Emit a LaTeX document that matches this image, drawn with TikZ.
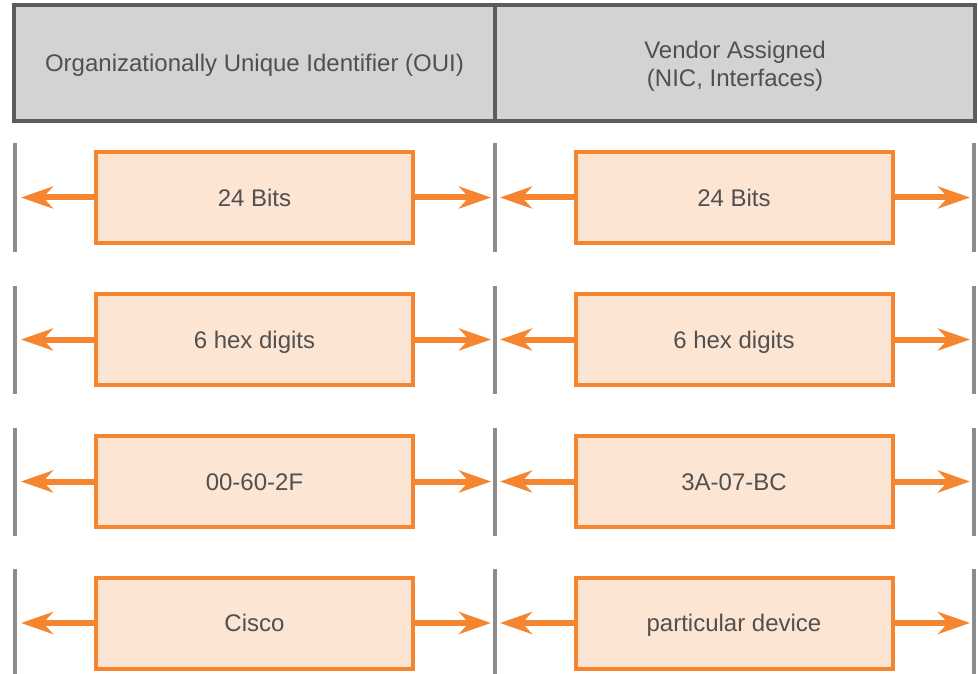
\documentclass[tikz,border=0pt]{standalone}
\usepackage{fontspec}
\setmainfont{Liberation Sans}
\usetikzlibrary{arrows.meta}
\definecolor{macorange}{HTML}{F5862F}
\definecolor{macfill}{HTML}{FDE5D3}
\definecolor{headfill}{HTML}{D4D2D3}
\definecolor{headline}{HTML}{5C5C5C}
\definecolor{macgray}{HTML}{505050}
\definecolor{tickgray}{HTML}{8C8C8C}
\tikzset{
  header/.style={draw=headline, line width=3.5pt, fill=headfill, minimum height=116pt,
    text=macgray, align=center, font=\fontsize{24}{27.5}\selectfont,
    text height=17.2pt, text depth=0pt},
  field/.style={draw=macorange, line width=4pt, fill=macfill, minimum width=317pt,
    minimum height=91pt, text=macgray, font=\fontsize{24}{27.5}\selectfont,
    text height=17.2pt, text depth=0pt},
  span/.style={draw=macorange, line width=6pt,
    -{Stealth[length=32pt, width=22pt, inset=10pt]}},
  divider/.style={draw=tickgray, line width=3.5pt}
}
\begin{document}
\begin{tikzpicture}[x=1pt,y=-1pt]
        \useasboundingbox (0,0) rectangle (978,674);
        \node[header, minimum width=481pt] (oui) at (254.5,63) {Organizationally Unique Identifier (OUI)};
        \node[header, minimum width=480pt, text height=47pt, text depth=-2pt] (vendor) at (735,63) {Vendor Assigned\\(NIC, Interfaces)};
        \foreach \r/\y/\ltext/\rtext in {1/197.5/24 Bits/24 Bits, 2/339.5/6 hex digits/6 hex digits,
            3/481.5/00-60-2F/3A-07-BC, 4/623/Cisco/particular device}{
          \draw[divider] (15,\y-54) -- (15,\y+54);
          \draw[divider] (495,\y-54) -- (495,\y+54);
          \draw[divider] (974,\y-54) -- (974,\y+54);
          \coordinate (a\r) at (21,\y);
          \coordinate (b\r) at (491,\y);
          \coordinate (c\r) at (500,\y);
          \coordinate (d\r) at (970,\y);
          \node[field] (left\r) at (254.5,\y) {\ltext};
          \node[field] (right\r) at (734,\y) {\rtext};
          \draw[span] (left\r.west) -- (a\r);
          \draw[span] (left\r.east) -- (b\r);
          \draw[span] (right\r.west) -- (c\r);
          \draw[span] (right\r.east) -- (d\r);
        }
      \end{tikzpicture}
\end{document}
